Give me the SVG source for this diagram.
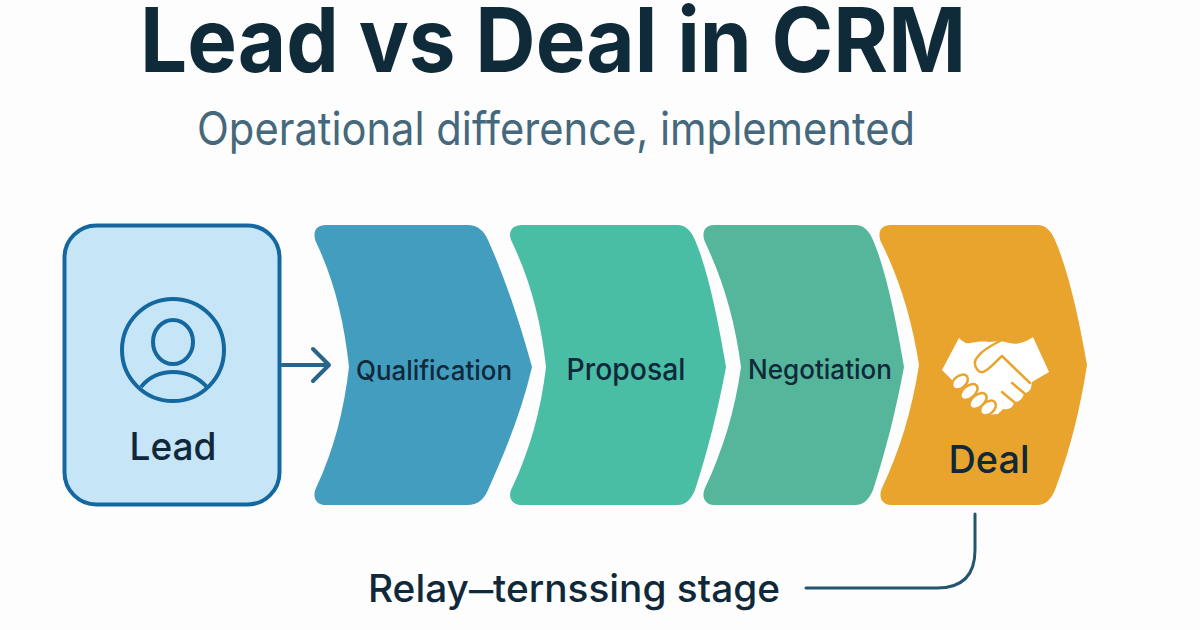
<svg xmlns="http://www.w3.org/2000/svg" width="1200" height="630" viewBox="0 0 1200 630">
<style>
text{font-family:Inter,"Liberation Sans",sans-serif;fill:#10293a;text-anchor:middle}
.st{font-size:27.500px;font-weight:500}
.big{font-size:38.500px;font-weight:500}
.ln{fill:none;stroke:#14689f;stroke-width:4}
.cn{fill:none;stroke:#2a6488;stroke-width:4;stroke-linecap:round;stroke-linejoin:round}
.ol{fill:#fff;stroke:#e9a42e;stroke-width:2.500;stroke-linejoin:round;stroke-linecap:round}
</style>
<rect width="1200" height="630" fill="#fdfdfd"/>
<g id="title">
<text x="553" y="72" font-size="89" font-weight="700" style="fill:#0f2a38" textLength="826" lengthAdjust="spacingAndGlyphs">Lead vs Deal in CRM</text>
<text x="556" y="145" font-size="46" style="fill:#46687c" textLength="718" lengthAdjust="spacingAndGlyphs">Operational difference, implemented</text>
</g>
<g id="connectors">
<path class="cn" d="M282 365H328M313 349L329 365L313 381"/>
<path class="cn" style="stroke:#24556f;stroke-width:3" d="M975 514V550Q975 588 937 588H806"/>
</g>
<g id="lead">
<rect x="64.500" y="225.500" width="215" height="279" rx="32" fill="#c6e6f7" stroke="#14689f" stroke-width="4"/>
<circle cx="173" cy="350" r="51" class="ln"/>
<ellipse cx="173" cy="342" rx="20" ry="22" class="ln"/>
<path class="ln" d="M141 387Q153 372 173 372Q193 372 207 387"/>
<text x="173" y="460" class="big" textLength="87" lengthAdjust="spacingAndGlyphs">Lead</text>
</g>
<g id="qualification">
<path fill="#439dbf" d="M326 225H467C478 225 484 231 488 240C506 280 522 330 532 367C522 410 506 450 488 490C484 499 478 505 467 505H326C316 505 312 497 316 488C334 450 344 410 349 367C344 320 334 280 316 242C312 232 316 225 326 225Z"/>
<text x="434" y="380" class="st" textLength="156" lengthAdjust="spacingAndGlyphs">Qualification</text>
</g>
<g id="proposal">
<path fill="#4abda5" d="M522 225H677C686 225 691 231 695 240C708 270 718 320 726 367C718 410 708 450 695 490C691 499 686 505 677 505H522C512 505 507 497 512 488C530 450 541 410 546 367C541 320 530 280 512 242C507 232 512 225 522 225Z"/>
<text x="626" y="380" class="st" style="font-size:30px" textLength="119" lengthAdjust="spacingAndGlyphs">Proposal</text>
</g>
<g id="negotiation">
<path fill="#55b69b" d="M714 225H855C864 225 869 231 873 240C886 270 896 320 904 367C896 410 886 450 873 490C869 499 864 505 855 505H714C705 505 701 497 705 488C723 450 735 410 741 367C735 320 723 280 705 242C701 232 705 225 714 225Z"/>
<text x="820" y="379" class="st" textLength="144" lengthAdjust="spacingAndGlyphs">Negotiation</text>
</g>
<g id="deal">
<path fill="#e9a42e" d="M891 225H1037C1046 225 1051 231 1055 240C1070 275 1080 325 1087 365C1080 410 1070 450 1055 490C1051 499 1046 505 1037 505H891C882 505 878 497 882 488C900 450 912 410 919 365C912 320 900 280 881 242C877 232 881 225 891 225Z"/>
<path fill="#fff" d="M959 338C963 342 966 344 970 343C976 342 982 341 989 342L1000 341C1006 342 1013 345 1020 343C1025 342 1029 340 1033 337L1049 372L1032 382L1031 388C1030 391 1027 393 1024 393C1023 399 1019 402 1014 402C1013 408 1009 410 1003 409L998 414L985 415L950 378L942 370Z"/>
<ellipse class="ol" cx="960" cy="382" rx="9" ry="6" transform="rotate(-40 960 382)"/>
<ellipse class="ol" cx="969" cy="392" rx="10" ry="6" transform="rotate(-40 969 392)"/>
<ellipse class="ol" cx="978" cy="401" rx="10" ry="6" transform="rotate(-40 978 401)"/>
<ellipse class="ol" cx="988" cy="408" rx="9" ry="6" transform="rotate(-40 988 408)"/>
<path class="ol" style="fill:none" d="M1000 341C992 345 985 349 980 354L976 359C973 364 977 373 983 372C988 371 995 362 1002 356L1030 383M1012 383L1024 393M1002 392L1014 402"/>
<text x="989" y="473" class="big" textLength="81" lengthAdjust="spacingAndGlyphs">Deal</text>
</g>
<g id="note">
<text x="574" y="602" class="big" textLength="412" lengthAdjust="spacingAndGlyphs">Relay<tspan font-size="24" font-weight="800" dy="-3">—</tspan><tspan dy="3">ternssing stage</tspan></text>
</g>
</svg>
